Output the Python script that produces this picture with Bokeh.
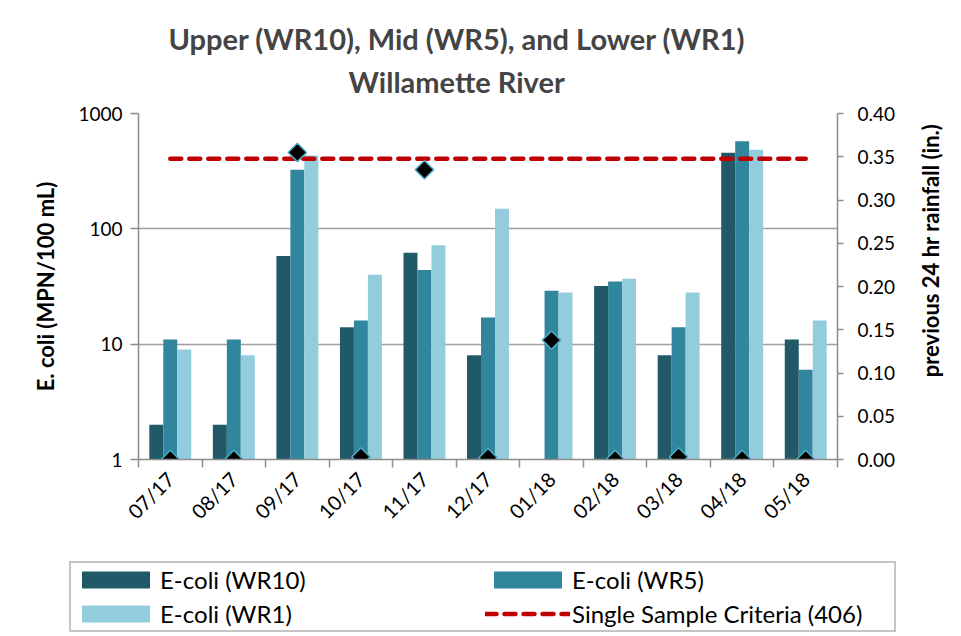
import numpy as np
from math import pi
from bokeh.plotting import figure
from bokeh.layouts import column, row
from bokeh.models import (Range1d, LinearAxis, LinearScale, FixedTicker, NumeralTickFormatter,
                          CustomJSTickFormatter, ColumnDataSource, Legend, LegendItem, Title,
                          Label)
from bokeh.transform import dodge
from bokeh.embed import file_html
from bokeh.resources import INLINE

# ---- data ----
months = ["07/17", "08/17", "09/17", "10/17", "11/17", "12/17",
          "01/18", "02/18", "03/18", "04/18", "05/18"]
wr10 = [2, 2, 58, 14, 62, 8, np.nan, 32, 8, 457, 11]
wr5 = [11, 11, 326, 16, 44, 17, 29, 35, 14, 576, 6]
wr1 = [9, 8, 433, 40, 72, 149, 28, 37, 28, 486, 16]
rain = [0.0, 0.0, 0.355, 0.003, 0.335, 0.002, 0.138, 0.0, 0.003, 0.0, 0.0]
criteria = 406
ecoli_ticks = [1, 10, 100, 1000]
rain_ticks = [0.0, 0.05, 0.10, 0.15, 0.20, 0.25, 0.30, 0.35, 0.40]
labels = ["E-coli (WR10)", "E-coli (WR5)", "E-coli (WR1)", "Single Sample Criteria (406)"]

FONT = "Lato"
C10, C5, C1 = "#215968", "#31859c", "#93cddd"
CRIT = "#c00000"
GRAY = "#8c8c8c"

n = len(months)
centers = [i + 0.5 for i in range(n)]
bounds = list(range(n + 1))

src = ColumnDataSource(dict(x=centers, wr10=wr10, wr5=wr5, wr1=wr1, rain=rain,
                            crit=[criteria] * n))

p = figure(width=912, height=557, x_range=Range1d(0, n), y_range=Range1d(1, 1000),
           y_axis_type="log", output_backend="svg", toolbar_location=None,
           min_border_left=138, min_border_right=75, min_border_top=113,
           min_border_bottom=98)
p.outline_line_color = None
p.background_fill_color = "white"
p.border_fill_color = "white"

p.extra_y_ranges = {"rain": Range1d(0, 0.4)}
p.extra_y_scales = {"rain": LinearScale()}

bw = 0.22
bar_kw = dict(bottom=1, width=bw, source=src, line_color=None)
bar_specs = [(dodge("x", -bw), "wr10", C10), ("x", "wr5", C5), (dodge("x", bw), "wr1", C1)]
for bx, field, col in bar_specs:
    p.vbar(x=bx, top=field, fill_color=col, **bar_kw)

line_kw = dict(line_color=CRIT, line_width=4.5, line_dash="11 8", line_cap="round")
p.line(x="x", y="crit", source=src, **line_kw)

p.scatter(x="x", y="rain", source=src, y_range_name="rain", marker="square", angle=pi / 4,
          size=13, fill_color="black", line_color="#4bacc6", line_width=1.5)

# x axis
xa = p.xaxis[0]
xa.ticker = FixedTicker(ticks=centers, minor_ticks=bounds)
xa.formatter = CustomJSTickFormatter(args=dict(months=months),
                                     code="return months[Math.floor(tick)] || ''")
xa.major_tick_line_color = None
xa.minor_tick_line_color = GRAY
xa.minor_tick_line_width = 1.5
xa.minor_tick_out = 8
xa.minor_tick_in = 0
xa.axis_line_color = GRAY
xa.axis_line_width = 1.5
xa.major_label_orientation = pi / 4
xa.major_label_text_font = FONT
xa.major_label_text_font_size = "20px"
xa.major_label_text_color = "black"
xa.major_label_standoff = 8

# left axis
ya = p.yaxis[0]
ya.ticker = FixedTicker(ticks=ecoli_ticks)
ya.formatter = NumeralTickFormatter(format="0")
ya.minor_tick_line_color = None
ya.major_tick_out = 8
ya.major_tick_in = 0
ya.major_tick_line_color = GRAY
ya.major_tick_line_width = 1.5
ya.axis_line_color = GRAY
ya.axis_line_width = 1.5
ya.major_label_text_font = FONT
ya.major_label_text_font_size = "19px"
ya.major_label_text_color = "black"
ya.major_label_standoff = 8
ya.axis_label = "E. coli (MPN/100 mL)"
ya.axis_label_text_font = FONT
ya.axis_label_text_font_style = "bold"
ya.axis_label_text_font_size = "22px"
ya.axis_label_text_color = "black"
ya.axis_label_standoff = 16

p.xgrid.visible = False
p.ygrid.grid_line_color = "#a0a0a0"
p.ygrid.grid_line_width = 1.5

# right axis (ticks + labels)
ra = LinearAxis(y_range_name="rain", ticker=FixedTicker(ticks=rain_ticks),
                formatter=NumeralTickFormatter(format="0.00"))
ra.minor_tick_line_color = None
ra.major_tick_out = 6
ra.major_tick_in = 0
ra.major_tick_line_color = GRAY
ra.major_tick_line_width = 1.5
ra.axis_line_color = GRAY
ra.axis_line_width = 1.5
ra.major_label_text_font = FONT
ra.major_label_text_font_size = "19px"
ra.major_label_text_color = "black"
ra.major_label_standoff = 14
p.add_layout(ra, "right")

# titles
p.title.text = "Upper (WR10), Mid (WR5), and Lower (WR1)"
p.title.align = "left"
p.title.offset = 30
p.title.text_font = FONT
p.title.text_font_size = "29px"
p.title.text_font_style = "bold"
try:
    p.title.standoff = -17
except Exception:
    p.title.standoff = 0
t2 = Title(text="Willamette River", align="left", offset=210,
           text_font=FONT, text_font_size="29px", text_font_style="bold", standoff=29)
p.add_layout(t2, "above")


def blank(w, h, xr=(0, 1)):
    f = figure(width=w, height=h, output_backend="svg", toolbar_location=None,
               x_axis_location=None, y_axis_location=None, min_border=0,
               x_range=Range1d(*xr), y_range=Range1d(0, 1), title=None)
    f.outline_line_color = None
    f.grid.visible = False
    f.background_fill_color = "white"
    f.border_fill_color = "white"
    return f


# right axis title (reads bottom-to-top); this strip's frame is aligned with p's frame
r = blank(41, 557)
r.add_layout(Label(x=18, y=209, x_units="screen", y_units="screen",
                   text="previous 24 hr rainfall (in.)", angle=pi / 2,
                   text_align="center", text_baseline="middle", text_font=FONT,
                   text_font_size="22px", text_font_style="bold", text_color="black"))

# legend strip: same series styles, x range placed so that no mark falls in view
q = blank(953, 76, xr=(-100, -99))
leg_r = [q.vbar(x=bx, top=field, fill_color=col, **bar_kw) for bx, field, col in bar_specs]
leg_r.append(q.line(x="x", y="crit", source=src, **line_kw))
item_map = dict(zip(labels, leg_r))
order = [labels[0], labels[2], labels[1], labels[3]]   # column-major fill -> rows WR10|WR5, WR1|crit
legend = Legend(items=[LegendItem(label=t, renderers=[item_map[t]]) for t in order],
                ncols=2, location=(69, 1))
legend.label_text_font = FONT
legend.label_text_font_size = "24px"
legend.label_text_color = "black"
legend.glyph_width = 85
legend.glyph_height = 21
legend.label_height = 21
legend.label_width = 320
legend.spacing = 5
legend.padding = 2
legend.margin = 0
legend.label_standoff = 2
legend.border_line_color = "#8c8c8c"
legend.border_line_width = 2
legend.background_fill_alpha = 1
q.add_layout(legend)

layout = column(row(p, r), q)
open("out.html", "w").write(file_html(layout, INLINE))
